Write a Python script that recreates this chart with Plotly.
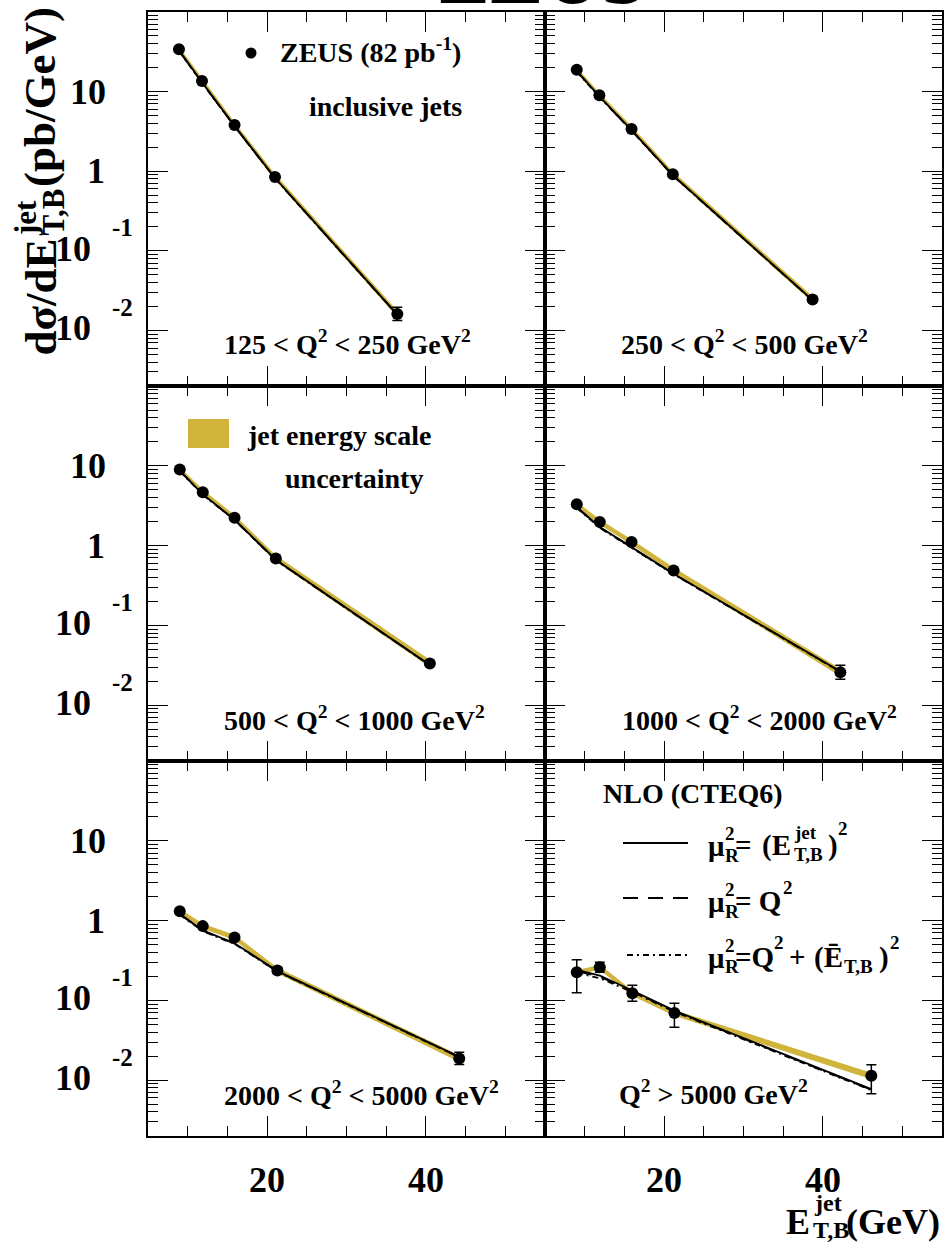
import math
import plotly.graph_objects as go

W, H = 946, 1244
FONT = "Liberation Serif"
GOLD = "#d0b43c"

# ---------------- data ----------------
q_labels = [
    "125 < Q<sup>2</sup> < 250 GeV<sup>2</sup>",
    "250 < Q<sup>2</sup> < 500 GeV<sup>2</sup>",
    "500 < Q<sup>2</sup> < 1000 GeV<sup>2</sup>",
    "1000 < Q<sup>2</sup> < 2000 GeV<sup>2</sup>",
    "2000 < Q<sup>2</sup> < 5000 GeV<sup>2</sup>",
    "Q<sup>2</sup> > 5000 GeV<sup>2</sup>",
]
et = [
    [8.9, 11.8, 15.9, 21.0, 36.4],
    [9.0, 11.85, 15.9, 21.1, 38.7],
    [9.0, 11.9, 15.9, 21.1, 40.5],
    [9.0, 11.9, 15.9, 21.2, 42.2],
    [9.0, 11.9, 15.9, 21.3, 44.2],
    [9.0, 11.9, 16.0, 21.3, 46.1],
]
xsec = [
    [34.0, 13.6, 3.8, 0.845, 0.0161],
    [18.8, 8.98, 3.39, 0.914, 0.0245],
    [8.98, 4.66, 2.24, 0.69, 0.0334],
    [3.30, 1.97, 1.107, 0.488, 0.0258],
    [1.31, 0.853, 0.615, 0.237, 0.01875],
    [0.2254, 0.2606, 0.1228, 0.0697, 0.01135],
]
err_up = [
    [0.6, 0.25, 0.08, 0.02, 0.0034],
    [0.35, 0.15, 0.06, 0.02, 0.0015],
    [0.16, 0.08, 0.04, 0.015, 0.0018],
    [0.06, 0.04, 0.025, 0.012, 0.0058],
    [0.03, 0.02, 0.02, 0.021, 0.0036],
    [0.097, 0.040, 0.032, 0.0226, 0.00426],
]
err_dn = [
    [0.6, 0.25, 0.08, 0.02, 0.0028],
    [0.35, 0.15, 0.06, 0.02, 0.0013],
    [0.16, 0.08, 0.04, 0.015, 0.0016],
    [0.06, 0.04, 0.025, 0.012, 0.0047],
    [0.03, 0.02, 0.02, 0.019, 0.0030],
    [0.101, 0.035, 0.025, 0.0236, 0.0046],
]
jes = [
    [0.04, 0.04, 0.05, 0.05, 0.06],
    [0.04, 0.04, 0.05, 0.05, 0.06],
    [0.04, 0.05, 0.05, 0.06, 0.08],
    [0.04, 0.05, 0.05, 0.06, 0.08],
    [0.04, 0.05, 0.05, 0.06, 0.07],
    [0.04, 0.05, 0.05, 0.06, 0.07],
]
nlo_et2 = [
    [33.0, 13.1, 3.70, 0.82, 0.0158],
    [18.2, 8.70, 3.28, 0.89, 0.0240],
    [8.70, 4.40, 2.12, 0.665, 0.0320],
    [3.05, 1.71, 0.957, 0.443, 0.0265],
    [1.22, 0.753, 0.521, 0.233, 0.0197],
    [0.2417, 0.205, 0.133, 0.0745, 0.00773],
]
nlo_q2 = [
    [32.6, 13.0, 3.68, 0.815, 0.0157],
    [18.0, 8.62, 3.25, 0.885, 0.0239],
    [8.62, 4.36, 2.10, 0.660, 0.0318],
    [3.00, 1.69, 0.950, 0.440, 0.0263],
    [1.20, 0.745, 0.515, 0.231, 0.0195],
    [0.232, 0.198, 0.130, 0.0735, 0.0076],
]
nlo_mix = [
    [32.3, 12.9, 3.66, 0.812, 0.0156],
    [17.8, 8.55, 3.23, 0.880, 0.0238],
    [8.55, 4.33, 2.09, 0.656, 0.0317],
    [2.96, 1.67, 0.940, 0.437, 0.0262],
    [1.18, 0.738, 0.510, 0.229, 0.0194],
    [0.220, 0.190, 0.127, 0.0720, 0.0075],
]
y_decades = [10, 1, 0.1, 0.01]
x_major = [20, 40]
x_range = [5, 55]
y_range = [0.002, 100]

DASH = "15px,10px"
DASHDOT = "6px,4px,2px,4px"

# ---------------- layout geometry (pixels) ----------------
cols = [(148, 545), (545, 942)]
rows = [(12, 386), (386, 761), (761, 1136)]


def px(x):
    return x / W


def py(y):
    return 1 - y / H


fig = go.Figure()
annotations = []
shapes = []


def ann(text, x, y, size, xanchor="center", yanchor="middle", angle=0):
    annotations.append(dict(
        text=text, x=px(x), y=py(y), xref="paper", yref="paper",
        xanchor=xanchor, yanchor=yanchor, showarrow=False, textangle=angle,
        font=dict(family=FONT, size=size, color="black", weight="bold"),
    ))


ly0, ly1 = math.log10(y_range[0]), math.log10(y_range[1])

for i in range(6):
    r, c = divmod(i, 2)
    xa = "x" if i == 0 else f"x{i+1}"
    ya = "y" if i == 0 else f"y{i+1}"
    # jet energy scale band
    up = [v * (1 + j) for v, j in zip(xsec[i], jes[i])]
    dn = [v * (1 - j) for v, j in zip(xsec[i], jes[i])]
    fig.add_trace(go.Scatter(
        x=et[i] + et[i][::-1], y=up + dn[::-1], fill="toself",
        fillcolor=GOLD, line=dict(color=GOLD, width=1.5), mode="lines",
        xaxis=xa, yaxis=ya, showlegend=False, hoverinfo="skip"))
    # NLO curves
    for vals, dash in ((nlo_mix[i], DASHDOT), (nlo_q2[i], DASH), (nlo_et2[i], "solid")):
        fig.add_trace(go.Scatter(
            x=et[i], y=vals, mode="lines",
            line=dict(color="black", width=1.8, dash=dash),
            xaxis=xa, yaxis=ya, showlegend=False, hoverinfo="skip"))
    # data
    fig.add_trace(go.Scatter(
        x=et[i], y=xsec[i], mode="markers",
        marker=dict(color="black", size=12, symbol="circle"),
        error_y=dict(type="data", array=err_up[i], arrayminus=err_dn[i],
                     color="black", thickness=1.5, width=5, symmetric=False),
        xaxis=xa, yaxis=ya, showlegend=False))

    x0, x1 = cols[c]
    y0, y1 = rows[r]
    fig.layout[("xaxis" if i == 0 else f"xaxis{i+1}")] = dict(
        domain=[px(x0), px(x1)], anchor=ya, range=x_range,
        showline=True, linewidth=2, linecolor="black", mirror="ticks",
        ticks="inside", ticklen=20, tickwidth=1, tickcolor="black",
        tickvals=x_major, showticklabels=False, showgrid=False, zeroline=False,
        minor=dict(ticks="inside", ticklen=10, tickwidth=1, tickcolor="black",
                   dtick=5, tick0=0, showgrid=False),
    )
    fig.layout[("yaxis" if i == 0 else f"yaxis{i+1}")] = dict(
        domain=[py(y1), py(y0)], anchor=xa, type="log", range=[ly0, ly1],
        showline=True, linewidth=2, linecolor="black", mirror="ticks",
        ticks="inside", ticklen=20, tickwidth=1, tickcolor="black",
        tickvals=y_decades, showticklabels=False, showgrid=False, zeroline=False,
        minor=dict(ticks="inside", ticklen=10, tickwidth=1, tickcolor="black",
                   dtick="D1", showgrid=False),
    )

# y tick labels (ROOT style)
for r, (y0, y1) in enumerate(rows):
    ppd = (y1 - y0) / (ly1 - ly0)
    for d in y_decades:
        yp = y0 + (ly1 - math.log10(d)) * ppd
        e = round(math.log10(d))
        if e == 1:
            ann("10", 108, yp, 36, xanchor="right")
        elif e == 0:
            ann("1", 107, yp, 36, xanchor="right")
        else:
            ann("10", 93, yp - 2, 36, xanchor="right")
            ann(str(e), 110, yp - 23, 25, xanchor="left")

# x tick labels
for c, (x0, x1) in enumerate(cols):
    ppu = (x1 - x0) / (x_range[1] - x_range[0])
    for v in x_major:
        ann(str(v), x0 + (v - x_range[0]) * ppu, 1180, 36)

# panel labels
q_pos = [(347, 343), (744, 343), (354, 718), (759, 718), (361, 1093), (713, 1092)]
for lab, (x, y) in zip(q_labels, q_pos):
    ann(lab, x, y, 28)

# ZEUS legend (panel 1)
shapes.append(dict(type="circle", xref="paper", yref="paper",
                   x0=px(245.5), x1=px(256.5), y0=py(58.5), y1=py(47.5),
                   fillcolor="black", line=dict(color="black", width=0)))
ann("ZEUS (82 pb<sup>-1</sup>)", 278, 51, 28, xanchor="left")
ann("inclusive jets", 307, 106, 28, xanchor="left")

# jet energy scale legend (panel 3)
shapes.append(dict(type="rect", xref="paper", yref="paper",
                   x0=px(188), x1=px(229), y0=py(448), y1=py(419),
                   fillcolor=GOLD, line=dict(width=0)))
ann("jet energy scale", 245, 435, 28, xanchor="left")
ann("uncertainty", 283, 478, 28, xanchor="left")

# NLO legend (panel 6)
ann("NLO (CTEQ6)", 601, 793, 28, xanchor="left")
for (xa_, xb_, yl, dash) in ((623, 688, 843, "solid"), (623, 688, 898, DASH),
                             (627, 688, 955, DASHDOT)):
    shapes.append(dict(type="line", xref="paper", yref="paper",
                       x0=px(xa_), x1=px(xb_), y0=py(yl), y1=py(yl),
                       line=dict(color="black", width=1.8, dash=dash)))
for yc in (845, 901, 957):
    ann("μ", 706, yc + 1, 29, xanchor="left")
    ann("2", 723, yc - 12, 19, xanchor="left")
    ann("R", 723, yc + 10, 19, xanchor="left")
# row 1
ann("=", 733, 845, 29, xanchor="left")
ann("(E", 760, 845, 29, xanchor="left")
ann("jet", 792, 832, 19, xanchor="left")
ann("T,B", 792, 854, 19, xanchor="left")
ann(")", 826, 845, 29, xanchor="left")
ann("2", 836, 828, 19, xanchor="left")
# row 2
ann("= Q", 733, 901, 29, xanchor="left")
ann("2", 781, 887, 19, xanchor="left")
# row 3
ann("=Q", 733, 957, 29, xanchor="left")
ann("2", 772, 942, 19, xanchor="left")
ann("+", 787, 957, 29, xanchor="left")
ann("(Ē", 812, 957, 29, xanchor="left")
ann("T,B", 842, 966, 19, xanchor="left")
ann(")", 877, 957, 29, xanchor="left")
ann("2", 888, 942, 19, xanchor="left")

# axis titles
# x title: E^jet_T,B (GeV)
ann("(GeV)", 942, 1222, 36, xanchor="right")
ann("E", 812, 1222, 36, xanchor="right")
ann("jet", 812, 1203, 24, xanchor="left")
ann("T,B", 811, 1230, 24, xanchor="left")
# y title rotated: dσ/dE^jet_T,B (pb/GeV)
ann("dσ/dE", 40, 358, 45, yanchor="bottom", angle=-90)
ann("jet", 26, 238, 31, yanchor="bottom", angle=-90)
ann("T,B", 53, 238, 31, yanchor="bottom", angle=-90)
ann("(pb/GeV)", 40, 189, 45, yanchor="bottom", angle=-90)

# big experiment logo text at the top (mostly cut off)
ann("ZEUS", 541, 22, 80, yanchor="bottom")

fig.update_layout(
    width=W, height=H, margin=dict(l=0, r=0, t=0, b=0),
    paper_bgcolor="white", plot_bgcolor="white",
    annotations=annotations, shapes=shapes, showlegend=False,
)

fig.write_html("out.html", config={"displayModeBar": False})
